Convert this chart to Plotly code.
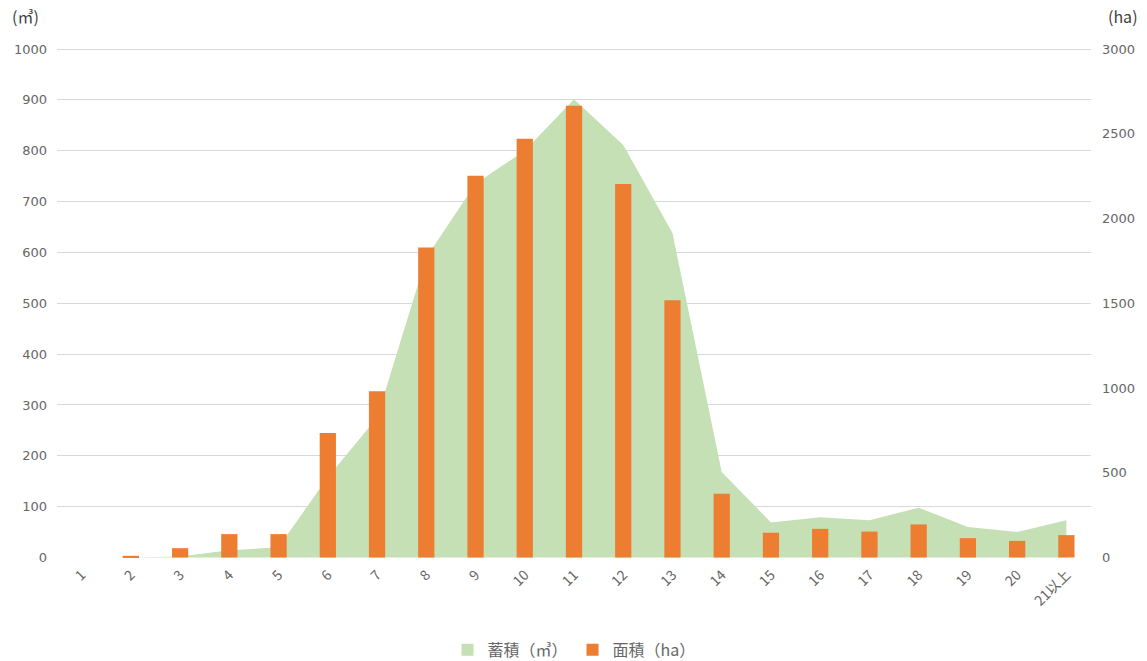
import plotly.graph_objects as go

categories = [str(i) for i in range(1, 21)] + ["21以上"]
stock_m3 = [0, 0, 2, 14, 20, 158, 275, 590, 735, 800, 901, 811, 638, 168, 69, 79, 73, 98, 60, 50, 73]
area_ha = [0, 10, 55, 138, 138, 734, 981, 1829, 2252, 2471, 2665, 2203, 1518, 376, 146, 169, 153, 195, 114, 98, 132]
left_ticks = list(range(0, 1001, 100))
right_ticks = list(range(0, 3001, 500))

FONT = "DejaVu Sans"
CJK = "Noto Sans CJK JP"
GREY = "#666666"
GREEN = "#c5e0b4"
ORANGE = "#ed7d31"

fig = go.Figure()
fig.add_trace(go.Scatter(
    x=categories, y=stock_m3, name="蓄積（㎥）", mode="none",
    fill="tozeroy", fillcolor=GREEN, yaxis="y", showlegend=False, legendgroup="s",
))
# legend swatch for the area series (square, as in the reference)
fig.add_trace(go.Bar(
    x=categories, y=[None] * len(categories), name="蓄積（㎥）",
    marker=dict(color=GREEN, line=dict(width=0)), yaxis="y2", legendgroup="s",
))
fig.add_trace(go.Bar(
    x=categories, y=area_ha, name="面積（ha）", marker=dict(color=ORANGE, line=dict(width=0)),
    yaxis="y2",
))

fig.update_layout(
    width=1147, height=661,
    margin=dict(l=57, r=56, t=48, b=103),
    paper_bgcolor="white", plot_bgcolor="white",
    font=dict(family=FONT, color=GREY, size=13),
    barmode="overlay",
    bargap=0.67,
    xaxis=dict(type="category", tickangle=-45, showgrid=False, showline=False,
               ticks="", ticklabelstandoff=5,
               tickfont=dict(family=CJK, size=14, color=GREY)),
    yaxis=dict(range=[-1, 1002], tickvals=left_ticks, showgrid=True, gridcolor="#d9d9d9",
               gridwidth=1, zeroline=False, showline=False, ticks="",
               ticklabelstandoff=9,
               tickfont=dict(size=13, color=GREY)),
    yaxis2=dict(range=[-3, 3006], tickvals=right_ticks, overlaying="y", side="right",
                showgrid=False, zeroline=False, showline=False, ticks="",
                ticklabelstandoff=10,
                tickfont=dict(size=13, color=GREY)),
    legend=dict(orientation="h", x=0.5, xanchor="center", yref="container", y=0.017,
                yanchor="middle", font=dict(family=CJK, size=16, color=GREY),
                traceorder="normal", itemwidth=30),
    showlegend=True,
    annotations=[
        dict(text="(㎥)", xref="paper", yref="paper", x=-0.03, y=1.063, xanchor="center",
             yanchor="middle", showarrow=False,
             font=dict(family=CJK, size=16, color="#404040")),
        dict(text="(ha)", xref="paper", yref="paper", x=1.031, y=1.063, xanchor="center",
             yanchor="middle", showarrow=False,
             font=dict(family=CJK, size=16, color="#404040")),
    ],
)

fig.write_html("out.html", config={"displayModeBar": False},
               post_script="document.body.style.margin='0';")
